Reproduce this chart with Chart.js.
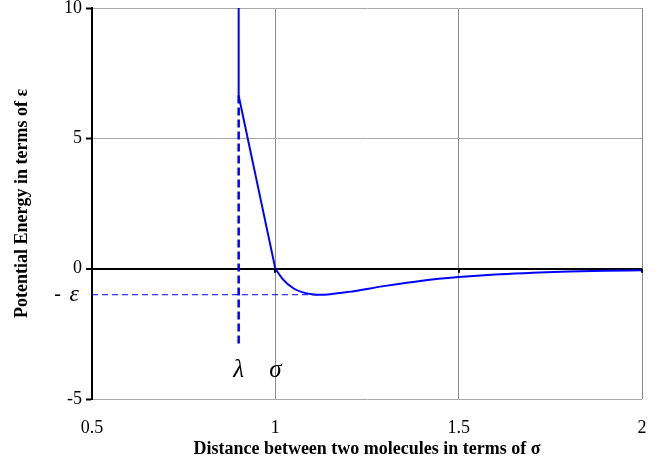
<!DOCTYPE html>
<html>
<head>
<meta charset="utf-8">
<script src="https://cdn.jsdelivr.net/npm/chart.js@4"></script>
<style>
  html, body { margin: 0; padding: 0; background: #fff; }
  #wrap { width: 670px; height: 464px; }
</style>
</head>
<body>
<div id="wrap"><canvas id="chart" width="670" height="464"></canvas></div>
<script>
// hard-core part: vertical wall at lambda, then straight drop to sigma
const coreX = [0.9, 0.9, 1.0];
const coreY = [10, 6.64, 0];
// attractive tail beyond sigma
const tailX = [1.0, 1.02, 1.05, 1.075, 1.1, 1.12, 1.15, 1.2, 1.3, 1.4, 1.5, 1.6, 1.7, 1.8, 1.9, 2.0];
const tailY = [0, -0.40, -0.76, -0.91, -0.98, -1.0, -0.98, -0.89, -0.66, -0.46, -0.32, -0.22, -0.16, -0.11, -0.08, -0.06];
// guide lines
const lambdaGuideX = [0.9, 0.9];
const lambdaGuideY = [6.64, -3];
const epsGuideX = [0.5, 1.12];
const epsGuideY = [-1, -1];
// axis ticks
const xTicks = [0.5, 1, 1.5, 2];
const yTicks = [-5, 0, 5, 10];

const serif = "'Liberation Serif', 'Times New Roman', serif";
const toPoints = (xs, ys) => xs.map((x, i) => ({x: x, y: ys[i]}));

const annotations = {
  id: 'annotations',
  afterDatasetsDraw(chart) {
    const {ctx, scales: {x, y}} = chart;
    const y0 = y.getPixelForValue(0);
    ctx.save();
    // little ticks where the x axis crosses zero
    ctx.strokeStyle = '#000';
    ctx.lineWidth = 2;
    xTicks.slice(1).forEach(v => {
      const px = Math.round(x.getPixelForValue(v));
      ctx.beginPath();
      ctx.moveTo(px, y0);
      ctx.lineTo(px, y0 + 4);
      ctx.stroke();
    });
    // greek labels
    ctx.fillStyle = '#000';
    ctx.font = 'italic 25px ' + serif;
    ctx.textAlign = 'center';
    ctx.textBaseline = 'middle';
    ctx.fillText('λ', x.getPixelForValue(0.9), y.getPixelForValue(-3.9));
    ctx.fillText('σ', x.getPixelForValue(1.0), y.getPixelForValue(-3.9));
    ctx.textAlign = 'right';
    ctx.font = '20px ' + serif;
    ctx.fillText('- ', 66, y.getPixelForValue(-1));
    ctx.font = 'italic 24px ' + serif;
    ctx.fillText('ε', 79, y.getPixelForValue(-1));
    ctx.restore();
  }
};

new Chart(document.getElementById('chart'), {
  type: 'scatter',
  data: {
    datasets: [
      {
        data: toPoints(coreX, coreY),
        showLine: true,
        borderColor: '#0000ff',
        borderWidth: 2,
        pointRadius: 0,
        tension: 0
      },
      {
        data: toPoints(tailX, tailY),
        showLine: true,
        borderColor: '#0000ff',
        borderWidth: 2,
        pointRadius: 0,
        cubicInterpolationMode: 'monotone'
      },
      {
        data: toPoints(lambdaGuideX, lambdaGuideY),
        showLine: true,
        borderColor: '#0000ff',
        borderWidth: 2.5,
        borderDash: [8, 4],
        pointRadius: 0
      },
      {
        data: toPoints(epsGuideX, epsGuideY),
        showLine: true,
        borderColor: '#0000ff',
        borderWidth: 1,
        borderDash: [6, 4],
        pointRadius: 0
      }
    ]
  },
  options: {
    responsive: false,
    animation: false,
    layout: { padding: { top: 8, right: 28, left: 0, bottom: 0 } },
    plugins: {
      legend: { display: false },
      tooltip: { enabled: false }
    },
    scales: {
      x: {
        type: 'linear',
        min: 0.5,
        max: 2,
        afterBuildTicks: (scale) => { scale.ticks = xTicks.map(v => ({value: v})); },
        afterFit: (scale) => { scale.height = 65; },
        ticks: {
          color: '#000',
          font: { family: serif, size: 18 },
          padding: 18,
          callback: (v) => String(v)
        },
        grid: { color: '#8a8a8a', lineWidth: 1, drawTicks: false },
        border: { display: false },
        title: {
          display: true,
          text: 'Distance between two molecules in terms of σ',
          color: '#000',
          font: { family: serif, size: 18, weight: 'bold' },
          padding: { top: 0, bottom: 4 }
        }
      },
      y: {
        type: 'linear',
        min: -5,
        max: 10,
        afterBuildTicks: (scale) => { scale.ticks = yTicks.map(v => ({value: v})); },
        afterFit: (scale) => { scale.width = 92; },
        ticks: {
          color: '#000',
          font: { family: serif, size: 18, lineHeight: 0.4 },
          padding: 4,
          callback: (v) => String(v)
        },
        grid: {
          color: (c) => c.tick && c.tick.value === 0 ? '#000' : '#a8a8a8',
          lineWidth: (c) => c.tick && c.tick.value === 0 ? 2 : 1,
          tickColor: '#000',
          tickLength: 6,
          tickWidth: 2
        },
        border: { color: '#000', width: 2 },
        title: {
          display: true,
          text: 'Potential Energy in terms of ε',
          color: '#000',
          font: { family: serif, size: 18, weight: 'bold' },
          padding: { top: 12, bottom: 0 }
        }
      }
    }
  },
  plugins: [annotations]
});
</script>
</body>
</html>
